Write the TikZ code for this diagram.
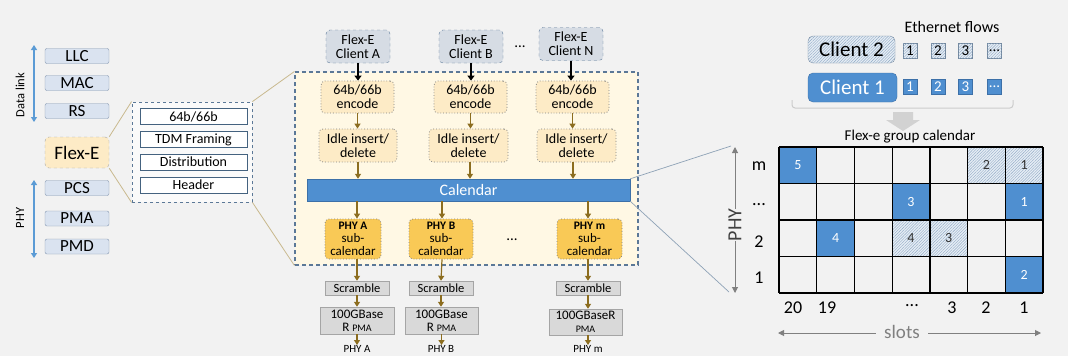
\documentclass[tikz,border=0pt]{standalone}
\usepackage{fontspec}
\setmainfont{Carlito}
\usetikzlibrary{arrows.meta,patterns.meta,calc}
\newcommand\fsz[1]{\fontsize{#1}{#1}\selectfont}
\newcommand\tdots{...}
\definecolor{bg}{HTML}{F2F2F2}
\definecolor{lblue}{HTML}{DAE3F0}
\definecolor{lblueb}{HTML}{8497B0}
\definecolor{mblue}{HTML}{4F8FD0}
\definecolor{mblueb}{HTML}{3C70A8}
\definecolor{dashb}{HTML}{5B7897}
\definecolor{cream}{HTML}{FFF8E4}
\definecolor{encf}{HTML}{FDEBC6}
\definecolor{subf}{HTML}{F9C956}
\definecolor{gold}{HTML}{8C6D1F}
\definecolor{tanl}{HTML}{C9B98E}
\definecolor{greyf}{HTML}{D9D9D9}
\definecolor{greyb}{HTML}{A5A5A5}
\definecolor{clientf}{HTML}{D6DCE4}
\definecolor{hatchc}{HTML}{8FA9C4}
\definecolor{hatchf}{HTML}{E6EDF5}
\definecolor{zoomline}{HTML}{8EA2B6}
\definecolor{arrgrey}{HTML}{808080}
\definecolor{axisblue}{HTML}{5B9BD5}
\definecolor{innerb}{HTML}{44627F}
\tikzset{
  layer/.style={draw=lblueb, fill=lblue, rounded corners=2pt, minimum width=64pt, minimum height=15pt, inner sep=0pt, font=\fsz{17}},
  sublayer/.style={draw=innerb, line width=1pt, fill=white, minimum width=107pt, minimum height=16pt, inner sep=0pt, font=\fsz{14}},
  client/.style={draw=dashb, dashed, fill=clientf, rounded corners=4pt, minimum width=64pt, minimum height=33pt, inner sep=0pt, align=center, font=\fsz{14}\linespread{0.95}},
  encbox/.style={draw=gray, dotted, line width=0.8pt, fill=encf, rounded corners=4pt, minimum height=32pt, inner sep=0pt, align=center, font=\fsz{14}},
  subcal/.style={draw=gray, dotted, line width=0.8pt, fill=subf, rounded corners=4pt, minimum height=40pt, inner sep=0pt, align=center, font=\fsz{13}\linespread{0.95}},
  greybox/.style={draw=greyb, fill=greyf, inner sep=0pt, align=center, font=\fsz{12.5}},
  garrow/.style={draw=gold, line width=1.2pt, -{Triangle[width=6pt,length=5pt]}},
  karrow/.style={draw=black, line width=1.6pt, -{Triangle[width=7pt,length=5pt]}},
  hatched/.style={fill=hatchf, postaction={pattern={Lines[angle=45,distance=2pt,line width=0.4pt]}, pattern color=hatchc}},
  flowbox/.style={minimum width=14pt, minimum height=15pt, inner sep=0pt, font=\fsz{15}},
  celltxt/.style={font=\fsz{14}},
  axlab/.style={font=\fsz{18}},
}
\begin{document}
\begin{tikzpicture}[x=1pt,y=-1pt]
\useasboundingbox (0,0) rectangle (1068,356);
\fill[bg] (0,0) rectangle (1068,356);

% ---------- left stack ----------
\node[layer] (llc) at (77,56) {LLC};
\node[layer] (mac) at (77,83) {MAC};
\node[layer] (rs) at (77,111) {RS};
\node[draw=greyb, dashed, fill=encf, rounded corners=4pt, minimum width=64pt, minimum height=31pt, inner sep=0pt, font=\fsz{19}] (flexe) at (77,152.5) {Flex-E};
\node[layer] (pcs) at (77,188) {PCS};
\node[layer] (pma) at (77,218.5) {PMA};
\node[layer] (pmd) at (77,246.5) {PMD};
\coordinate (dlt) at (34,45); \coordinate (dlb) at (34,122);
\coordinate (pht) at (34,180); \coordinate (phb) at (34,258);
\draw[axisblue, line width=1.5pt, {Triangle[width=6pt,length=5pt]}-{Triangle[width=6pt,length=5pt]}] (dlt) -- (dlb);
\draw[axisblue, line width=1.5pt, {Triangle[width=6pt,length=5pt]}-{Triangle[width=6pt,length=5pt]}] (pht) -- (phb);
\node[rotate=90, font=\fsz{12.5}] (dllab) at (20,95) {Data link};
\node[rotate=90, font=\fsz{12.5}] (phylab) at (20,218) {PHY};

% sub-layer box
\node[draw=dashb, dashed, line width=0.9pt, fill=white!60!bg, minimum width=120pt, minimum height=100pt, inner sep=0pt] (sub) at (192,152) {};
\node[sublayer] (s1) at (193.5,116.5) {64b/66b};
\node[sublayer] (s2) at (193.5,139.5) {TDM Framing};
\node[sublayer] (s3) at (193.5,162) {Distribution};
\node[sublayer] (s4) at (193.5,185) {Header};
\draw[tanl, line width=0.8pt] (flexe.north east) -- (sub.north west);
\draw[tanl, line width=0.8pt] (flexe.south east) -- (sub.south west);

% ---------- middle ----------
\node[draw=dashb, dashed, line width=1.1pt, dash pattern=on 4pt off 3pt, fill=cream, minimum width=343pt, minimum height=193pt, inner sep=0pt] (big) at (466.5,168.5) {};
\draw[tanl, line width=0.8pt] (sub.north east) -- (big.north west);
\draw[tanl, line width=0.8pt] (sub.south east) -- (big.south west);

\node[client] (ca) at (358,46.5) {Flex-E\\Client A};
\node[client] (cb) at (471,46.5) {Flex-E\\Client B};
\node[client] (cn) at (571,44) {Flex-E\\Client N};
\node[font=\fsz{15}] (cdots) at (520,47) {\tdots};

\node[encbox, minimum width=73pt] (ea) at (357.5,97) {64b/66b\\encode};
\node[encbox, minimum width=73pt] (eb) at (470.5,97) {64b/66b\\encode};
\node[encbox, minimum width=73pt] (en) at (572.5,97) {64b/66b\\encode};

\node[encbox, minimum width=78pt, minimum height=33pt] (ia) at (358,145.5) {Idle insert/\\delete};
\node[encbox, minimum width=79pt, minimum height=33pt] (ib) at (468.5,145.5) {Idle insert/\\delete};
\node[encbox, minimum width=79pt, minimum height=33pt] (in) at (576.5,145.5) {Idle insert/\\delete};

\node[draw=mblueb, fill=mblue, minimum width=323pt, minimum height=22pt, inner sep=0pt, text=white, font=\fsz{16}] (cal) at (468.5,190) {Calendar};

\node[subcal, minimum width=56pt] (pa) at (353,239) {{\bfseries\fsz{11.5}PHY A}\\sub-\\calendar};
\node[subcal, minimum width=64pt] (pb) at (441,239) {{\bfseries\fsz{11.5}PHY B}\\sub-\\calendar};
\node[subcal, minimum width=65pt] (pm) at (589.5,239) {{\bfseries\fsz{11.5}PHY m}\\sub-\\calendar};
\node[font=\fsz{15}] (pdots) at (512,240) {\tdots};

\node[greybox, minimum width=64pt, minimum height=14pt] (sa) at (357,288) {Scramble};
\node[greybox, minimum width=64pt, minimum height=14pt] (sb) at (441,288) {Scramble};
\node[greybox, minimum width=64pt, minimum height=14pt] (sm) at (588,288) {Scramble};

\node[greybox, minimum width=74pt, minimum height=27pt, font=\fsz{13}\linespread{0.95}] (ma) at (357,320.5) {100GBase\\R {\fsz{10}PMA}};
\node[greybox, minimum width=73pt, minimum height=27pt, font=\fsz{13}\linespread{0.95}] (mb) at (441.5,320.5) {100GBase\\R {\fsz{10}PMA}};
\node[greybox, minimum width=73pt, minimum height=26pt, font=\fsz{13}\linespread{0.95}] (mm) at (585.5,322) {100GBaseR\\{\fsz{10}PMA}};

\node[anchor=north, inner sep=0pt, font=\fsz{11}] (oa) at (357,345) {PHY A};
\node[anchor=north, inner sep=0pt, font=\fsz{11}] (ob) at (441,345) {PHY B};
\node[anchor=north, inner sep=0pt, font=\fsz{11}] (om) at (588,345) {PHY m};

\draw[karrow] (ca.south) -- (ca.south |- ea.north);
\draw[karrow] (cb.south) -- (cb.south |- eb.north);
\draw[karrow] (cn.south) -- (cn.south |- en.north);
\draw[garrow] (ea.south) -- (ea.south |- ia.north);
\draw[garrow] (eb.south) -- (eb.south |- ib.north);
\draw[garrow] (en.south) -- (en.south |- in.north);
\draw[garrow] (ia.south) -- (ia.south |- cal.north);
\draw[garrow] ([xshift=1.5pt]ib.south) -- ([xshift=1.5pt]ib.south |- cal.north);
\draw[garrow] ([xshift=-3.5pt]in.south) -- ([xshift=-3.5pt]in.south |- cal.north);
\draw[garrow] ([xshift=4pt]pa.north |- cal.south) -- ([xshift=4pt]pa.north);
\draw[garrow] ([xshift=1pt]pb.north |- cal.south) -- ([xshift=1pt]pb.north);
\draw[garrow] ([xshift=-1.5pt]pm.north |- cal.south) -- ([xshift=-1.5pt]pm.north);
\draw[garrow] ([xshift=4pt]pa.south) -- (sa.north);
\draw[garrow] ([xshift=1pt]pb.south) -- (sb.north);
\draw[garrow] ([xshift=-1.5pt]pm.south) -- (sm.north);
\draw[garrow] (sa.south) -- (ma.north);
\draw[garrow] (sb.south) -- (sb.south |- mb.north);
\draw[garrow] (sm.south) -- (sm.south |- mm.north);
\draw[garrow] (ma.south) -- (ma.south |- oa.north);
\draw[garrow] (mb.south) -- (mb.south |- ob.north);
\draw[garrow] (mm.south -| sm.south) -- (sm.south |- om.north);

% ---------- right ----------
\node[font=\fsz{16}] (eth) at (952,27) {Ethernet flows};
\node[draw=hatchc!80!black, hatched, rounded corners=5pt, minimum width=87pt, minimum height=27pt, inner sep=0pt, font=\fsz{21}] (c2) at (851.5,49.5) {Client 2};
\node[draw=mblueb, fill=mblue, rounded corners=5pt, minimum width=89pt, minimum height=29pt, inner sep=0pt, font=\fsz{21}, text=white] (c1) at (852.5,87.5) {Client 1};
\foreach \x/\t [count=\i] in {910/1, 938/2, 965.5/3, 994.5/\tdots} {
  \node[flowbox, draw=hatchc!80!black, hatched] (f2\i) at (\x,50.5) {\t};
  \node[flowbox, draw=mblueb, fill=mblue, text=white] (f1\i) at (\x,87) {\t};
}
\draw[gray!40, line width=1pt, rounded corners=3pt] (792,100) -- (792,108) -- (1013,108) -- (1013,100);
\fill[gray!35] (893,112) -- (913,112) -- (913,120) -- (920,120) -- (903,131) -- (886,120) -- (893,120) -- cycle;
\node[font=\fsz{15}] (gcal) at (910,137) {Flex-e group calendar};

% grid
\def\gx{779}\def\gy{147}\def\cw{37.714}\def\rh{36.5}
\foreach \c/\r/\t in {0/0/5, 3/1/3, 6/1/1, 1/2/4, 6/3/2} {
  \fill[mblue] ({\gx+\c*\cw},{\gy+\r*\rh}) rectangle ++(\cw,\rh);
  \node[celltxt, text=white] (cell\c\r) at ({\gx+(\c+0.5)*\cw},{\gy+(\r+0.5)*\rh}) {\t};
}
\foreach \c/\r/\t in {5/0/2, 6/0/1, 3/2/4, 4/2/3} {
  \path[hatched] ({\gx+\c*\cw},{\gy+\r*\rh}) rectangle ++(\cw,\rh);
  \node[celltxt, text=black!80] (cell\c\r) at ({\gx+(\c+0.5)*\cw},{\gy+(\r+0.5)*\rh}) {\t};
}
\foreach \c in {0,...,7} \draw[line width=1.3pt] ({\gx+\c*\cw},\gy) -- ({\gx+\c*\cw},{\gy+4*\rh});
\foreach \r in {0,...,4} \draw[line width=1.3pt] (\gx,{\gy+\r*\rh}) -- ({\gx+7*\cw},{\gy+\r*\rh});

\node[axlab] (rm) at (759,166) {m};
\node[axlab] (rd) at (759,205) {\tdots};
\node[axlab] (r2) at (759,242) {2};
\node[axlab] (r1) at (759,278) {1};
\node[axlab] (k20) at (793,308) {20};
\node[axlab] (k19) at (827,308) {19};
\node[axlab] (kd) at (912,306) {\tdots};
\node[axlab] (k3) at (952,308) {3};
\node[axlab] (k2) at (986,308) {2};
\node[axlab] (k1) at (1024,308) {1};

\node[font=\fsz{19}, text=arrgrey] (slots) at (902,332) {slots};
\coordinate (sl) at (778,333); \coordinate (sr) at (1041,333);
\draw[arrgrey, line width=1pt, -{Triangle[width=6pt,length=6pt]}] ([xshift=-5pt]slots.west |- sl) -- (sl);
\draw[arrgrey, line width=1pt, -{Triangle[width=6pt,length=6pt]}] ([xshift=5pt]slots.east |- sr) -- (sr);

\node[rotate=90, font=\fsz{20}, text=black!75] (phyax) at (735,225) {PHY};
\coordinate (pt) at (735,147); \coordinate (pb2) at (735,293);
\draw[arrgrey, line width=1pt, -{Triangle[width=6pt,length=6pt]}] ([yshift=-4pt]phyax.east) -- (pt);
\draw[arrgrey, line width=1pt, -{Triangle[width=6pt,length=6pt]}] ([yshift=4pt]phyax.west) -- (pb2);

\coordinate (zt) at (731,146); \coordinate (zb) at (729,292);
\draw[zoomline, line width=0.7pt] (cal.north east) -- (zt);
\draw[zoomline, line width=0.7pt] (cal.south east) -- (zb);
\end{tikzpicture}
\end{document}
